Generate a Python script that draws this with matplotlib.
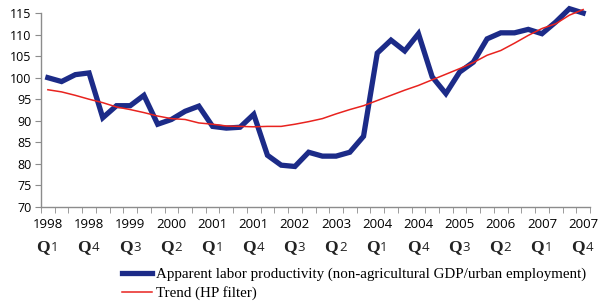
import matplotlib
matplotlib.use('Agg')
import matplotlib.pyplot as plt
from matplotlib.transforms import blended_transform_factory, offset_copy
import numpy as np

# quarterly series, 1998 Q1 .. 2007 Q4
productivity = [100.0, 99.1, 100.7, 101.1, 90.7, 93.5, 93.5, 95.9, 89.2, 90.3,
                92.2, 93.4, 88.7, 88.3, 88.5, 91.5, 82.0, 79.7, 79.4, 82.7,
                81.8, 81.8, 82.7, 86.4, 105.7, 108.7, 106.2, 110.2, 100.2, 96.3,
                101.3, 103.6, 109.0, 110.4, 110.4, 111.2, 110.2, 112.9, 116.0, 115.0]
trend = [97.2, 96.7, 95.9, 95.0, 94.2, 93.2, 92.6, 91.9, 91.1, 90.5,
         90.3, 89.5, 89.2, 88.8, 88.7, 88.6, 88.7, 88.7, 89.2, 89.8,
         90.5, 91.6, 92.6, 93.5, 94.7, 95.9, 97.1, 98.2, 99.5, 100.8,
         102.1, 103.5, 105.2, 106.3, 108.0, 109.8, 111.4, 112.5, 114.5, 115.8]
tick_years = ['1998', '1998', '1999', '2000', '2001', '2001', '2002',
              '2003', '2004', '2004', '2005', '2006', '2007', '2007']
tick_quarters = ['1', '4', '3', '2', '1', '4', '3', '2', '1', '4', '3', '2', '1', '4']
label_prod = 'Apparent labor productivity (non-agricultural GDP/urban employment)'
label_trend = 'Trend (HP filter)'

BLUE = '#1c2b88'
RED = '#e8231f'
GREY = '#8c8c8c'

fig = plt.figure(figsize=(6.08, 3.04), dpi=100)
ax = fig.add_axes([41/608, 1 - 207/304, 549/608, 194/304])

x = np.arange(len(productivity))
l1, = ax.plot(x, productivity, color=BLUE, lw=3.8, solid_joinstyle='miter',
              clip_on=False, zorder=3, label=label_prod)
l2, = ax.plot(x, trend, color=RED, lw=1.1, clip_on=False, zorder=4, label=label_trend)

ax.set_xlim(-0.5, len(x) - 0.5)
ax.set_ylim(70, 115)
ax.set_yticks(np.arange(70, 116, 5))

for s in ['top', 'right']:
    ax.spines[s].set_visible(False)
for s in ['left', 'bottom']:
    ax.spines[s].set_color(GREY)
    ax.spines[s].set_linewidth(1.0)

ax.tick_params(axis='y', which='major', length=4, color=GREY, labelsize=9, pad=3)
for lab in ax.get_yticklabels():
    lab.set_fontfamily('Open Sans')

ax.set_xticks(np.arange(-0.5, len(x), 1), minor=True)
ax.set_xticks(np.arange(0, len(x), 3))
ax.set_xticklabels(tick_years, fontfamily='Open Sans', fontsize=9.5)
ax.tick_params(axis='x', which='major', length=0, pad=8)
ax.tick_params(axis='x', which='minor', length=4, color=GREY)

trans = blended_transform_factory(ax.transData, ax.transAxes)
for xi, q in zip(np.arange(0, len(x), 3), tick_quarters):
    tq = offset_copy(trans, fig=fig, x=1.5, y=0, units='points')
    ax.text(xi, -0.205, 'Q', transform=tq, ha='right', va='center',
            family='Liberation Serif', fontsize=12.5, fontweight='bold', color='#222222')
    td = offset_copy(trans, fig=fig, x=2.0, y=-0.6, units='points')
    ax.text(xi, -0.205, q, transform=td, ha='left', va='center',
            family='Open Sans', fontsize=9.5, color='#222222')

# title sits mostly above the top edge, as in the source image
fig.text(0.43, 1.012, '(Base 1998 = 100)', ha='center', va='baseline',
         family='Liberation Serif', fontsize=12, fontweight='bold')

fig.legend(handles=[l1, l2], loc='upper left', bbox_to_anchor=(114/608, 1 - 260/304),
           frameon=False, prop={'family': 'Liberation Serif', 'size': 10.8},
           handlelength=2.0, handletextpad=0.3, labelspacing=0.35, borderpad=0)

fig.savefig('out.png', dpi=100)
